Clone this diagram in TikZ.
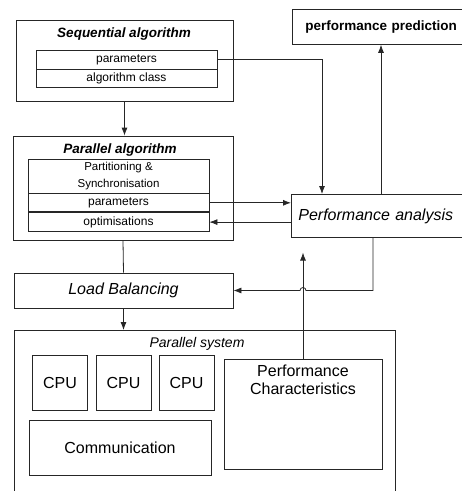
\documentclass[tikz,border=0pt]{standalone}
\usepackage{fontspec}
\setmainfont{Liberation Sans}
\usetikzlibrary{positioning,calc,arrows.meta}

\begin{document}
\begin{tikzpicture}[x=1pt,y=-1pt,node distance=0pt and 8pt,
		box/.style={draw=black!85,line width=0.8pt,rectangle,inner sep=0pt},
		inner/.style={box,minimum width=181pt,font=\fontsize{12}{14}\selectfont},
		title/.style={font=\fontsize{13.5}{16}\selectfont\bfseries\itshape},
		line/.style={draw=black!85,line width=0.8pt},
		arr/.style={line,-{Latex[length=8pt,width=6pt]}}]
			\clip (0,0) rectangle (462,491);
			% sequential algorithm
			\node[box, minimum width=217pt, minimum height=81pt] (seq) at (124.5,60.5) {};
			\node[title] (seqtitle) at (124,34) {Sequential algorithm};
			\node[inner, minimum height=19pt] (sparams) at (126.5,59.5) {parameters};
			\node[inner, minimum height=18pt, below=of sparams] (sclass) {algorithm class};
			% parallel algorithm
			\node[box, minimum width=220pt, minimum height=104pt] (par) at (123,188) {};
			\node[title] (partitle) at (120,150) {Parallel algorithm};
			\node[inner, minimum height=34pt, align=center, font=\fontsize{11.5}{17}\selectfont] (partit) at (118.5,176) {Partitioning \&\\Synchronisation};
			\node[inner, minimum height=18pt, below=of partit] (pparams) {parameters};
			\node[inner, minimum height=19pt, below=of pparams] (optim) {optimisations};
			% performance
			\node[box, anchor=north west, minimum height=43pt, text width=166pt, inner xsep=7pt, align=left, font=\fontsize{16}{19}\selectfont\itshape] (perfana) at (291,194) {Performance analysis};
			\node[box, anchor=north west, minimum height=35pt, text width=170pt, inner xsep=13pt, align=left, font=\fontsize{13.5}{16}\selectfont\bfseries] (perfpred) at (292,9) {performance prediction};
			% load balancing
			\node[box, minimum width=219pt, minimum height=35pt, font=\fontsize{16}{19}\selectfont\itshape] (load) at (123.5,290.5) {Load Balancing};
			% parallel system
			\node[box, anchor=north west, minimum width=381pt, minimum height=200pt] (psys) at (14,330) {};
			\node[font=\fontsize{14}{17}\selectfont\itshape] (psystitle) at (197,344) {Parallel system};
			\foreach \n/\x in {1/60,2/123.5,3/186.5}
				\node[box, minimum width=55pt, minimum height=55pt, font=\fontsize{16}{19}\selectfont] (cpu\n) at (\x,382.5) {CPU};
			\node[box, minimum width=182pt, minimum height=55pt, font=\fontsize{16}{19}\selectfont] (comm) at (120,447.5) {Communication};
			\node[box, minimum width=158pt, minimum height=110pt] (perfchar) at (303,414) {};
			\node[below=6pt of perfchar.north, inner sep=0pt, align=center, font=\fontsize{16}{18}\selectfont] (perfchartext) {Performance\\Characteristics};
			% connectors
			\coordinate (pa1) at ($(perfana.north west)+(90,0)$);
			\coordinate (pa2) at ($(perfana.south west)+(82,0)$);
			\coordinate (hop) at (perfchar.north |- load.east);
			\coordinate (pcend) at ($(perfchar.north)+(0,-106)$);
			\draw[arr] (seq.south) -- (seq.south |- par.north);
			\draw[arr] (sparams.east) -| ($(perfana.north west)+(31,0)$);
			\draw[arr] (pparams.east) -- (pparams.east -| perfana.west);
			\draw[arr] (optim.east -| perfana.west) -- (optim.east);
			\draw[arr] (pa1) -- (pa1 |- perfpred.south);
			\draw[line] (par.south) -- (load.north);
			\draw[arr] (load.south) -- (load.south |- psys.north);
			\draw[arr] (pa2) |- ([xshift=3pt]hop) arc[start angle=0, end angle=180, radius=3pt] -- (load.east);
			\draw[arr] (perfchar.north) -- (pcend);
		\end{tikzpicture}
\end{document}
